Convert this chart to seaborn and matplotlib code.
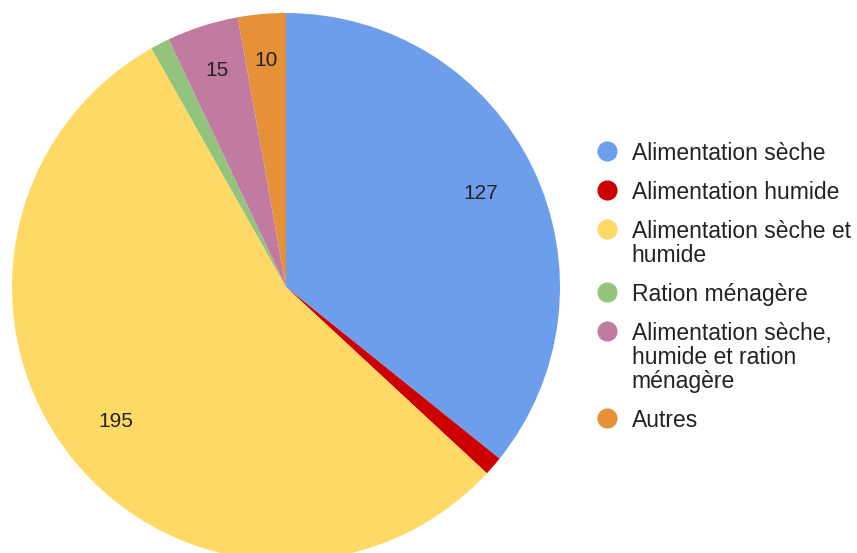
import matplotlib
matplotlib.use("Agg")
import matplotlib.pyplot as plt
import seaborn as sns
from matplotlib.lines import Line2D

# data
categories = [
    "Alimentation sèche",
    "Alimentation humide",
    "Alimentation sèche et\nhumide",
    "Ration ménagère",
    "Alimentation sèche,\nhumide et ration\nménagère",
    "Autres",
]
counts = [127, 4, 195, 4, 15, 10]
colors = ["#6D9EEB", "#CC0000", "#FFD966", "#93C47D", "#C27BA0", "#E69138"]

sns.set_theme(style="white")
plt.rcParams["font.family"] = ["Liberation Sans", "DejaVu Sans"]
palette = sns.color_palette(colors)

W, H = 857, 553
fig = plt.figure(figsize=(W / 100, H / 100), dpi=100)
# square axes so that the pie sits left, slightly cut at the bottom
R = 274
cx, cy = 286, 553 - 287
ax = fig.add_axes([(cx - R) / W, (cy - R) / H, 2 * R / W, 2 * R / H])

wedges, texts, autotexts = ax.pie(
    counts,
    colors=palette,
    startangle=90,
    counterclock=False,
    radius=1,
    autopct=lambda p: f"{round(p * sum(counts) / 100):d}" if p > 2 else "",
    pctdistance=0.79,
    wedgeprops=dict(linewidth=0),
    textprops=dict(fontsize=15, color="#222222"),
)
# small slices get their label pushed a bit outward
for t, v in zip(autotexts, counts):
    if v < 20:
        x, y = t.get_position()
        t.set_position((x * 1.05, y * 1.05))

ax.set_xlim(-1, 1)
ax.set_ylim(-1, 1)
ax.set_aspect("equal")
ax.axis("off")

handles = [
    Line2D([], [], marker="o", linestyle="", markersize=13.5,
           markerfacecolor=c, markeredgecolor=c)
    for c in palette
]
leg = fig.legend(
    handles, categories,
    loc="upper left",
    bbox_to_anchor=(596 / W, 1 - 142 / H),
    frameon=False,
    fontsize=16.5,
    handlelength=1.0,
    handleheight=0.9,
    handletextpad=0.55,
    labelspacing=0.7,
    borderpad=0,
    borderaxespad=0,
)
for t in leg.get_texts():
    t.set_color("#222222")
    t.set_linespacing(1.05)
# keep the dot next to the first line of multi-line labels
for col in leg._legend_handle_box.get_children():
    for item in col.get_children():
        item.align = "top"

fig.savefig("out.png", dpi=100)
